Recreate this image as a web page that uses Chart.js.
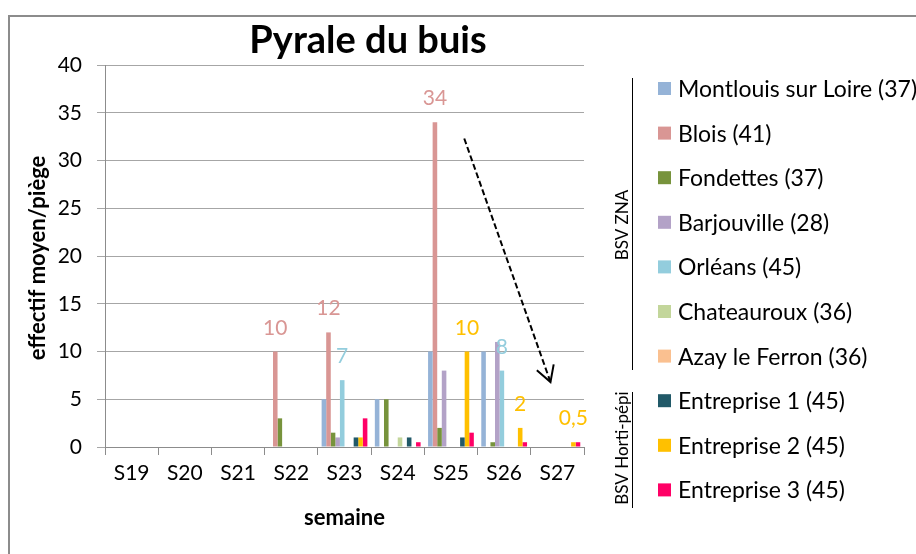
<!DOCTYPE html>
<html>
<head>
<meta charset="utf-8">
<script src="https://cdn.jsdelivr.net/npm/chart.js@4"></script>
<style>
  body { margin: 0; background: #fff; }
</style>
</head>
<body>
<canvas id="myChart" width="916" height="554"></canvas>
<script>
// Données (effectif moyen / piège)
const weeks = ['S19', 'S20', 'S21', 'S22', 'S23', 'S24', 'S25', 'S26', 'S27']
const yTicks = [0, 5, 10, 15, 20, 25, 30, 35, 40]

const montlouis   = [0, 0, 0, 0, 5, 5, 10, 10, 0]
const blois       = [0, 0, 0, 10, 12, 0, 34, 0, 0]
const fondettes   = [0, 0, 0, 3, 1.5, 5, 2, 0.5, 0]
const barjouville = [0, 0, 0, 0, 1, 0, 8, 11, 0]
const orleans     = [0, 0, 0, 0, 7, 0, 0, 8, 0]
const chateauroux = [0, 0, 0, 0, 0, 1, 0, 0, 0]
const azay        = [0, 0, 0, 0, 0, 0, 0, 0, 0]
const entreprise1 = [0, 0, 0, 0, 1, 1, 1, 0, 0]
const entreprise2 = [0, 0, 0, 0, 1, 0, 10, 2, 0.5]
const entreprise3 = [0, 0, 0, 0, 3, 0.5, 1.5, 0.5, 0.5]

// semaines où la valeur est écrite au-dessus de la barre
const bloisLabelled = ['S22', 'S23', 'S25']
const orleansLabelled = ['S23', 'S26']
const entreprise2Labelled = ['S25', 'S26', 'S27']

// groupes de la légende
const groupZNA = 'BSV ZNA'
const groupHorti = 'BSV Horti-pépi'

const FONT = 'Lato, "Open Sans", sans-serif'

let datasets = [
    {label: 'Montlouis sur Loire (37)', data: montlouis, backgroundColor: '#95B3D7'},
    {label: 'Blois (41)', data: blois, backgroundColor: '#D99694', shown: bloisLabelled},
    {label: 'Fondettes (37)', data: fondettes, backgroundColor: '#77933C'},
    {label: 'Barjouville (28)', data: barjouville, backgroundColor: '#B3A2C7'},
    {label: 'Orléans (45)', data: orleans, backgroundColor: '#93CDDD', shown: orleansLabelled},
    {label: 'Chateauroux (36)', data: chateauroux, backgroundColor: '#C3D69B'},
    {label: 'Azay le Ferron (36)', data: azay, backgroundColor: '#FAC090'},
    {label: 'Entreprise 1 (45)', data: entreprise1, backgroundColor: '#215968'},
    {label: 'Entreprise 2 (45)', data: entreprise2, backgroundColor: '#FFC000', shown: entreprise2Labelled},
    {label: 'Entreprise 3 (45)', data: entreprise3, backgroundColor: '#FF0066'},
]

// cadre, titres, étiquettes, flèche et légende
const decorPlugin = {
    id: 'decor',
    beforeDraw(chart) {
        let c = chart.ctx
        c.save()
        c.strokeStyle = '#8c8c8c'
        c.lineWidth = 2
        c.strokeRect(9, 16, 1000, 1000)
        c.restore()
    },
    afterDraw(chart) {
        let c = chart.ctx
        let area = chart.chartArea
        let x = chart.scales.x
        let y = chart.scales.y
        c.save()

        // titre
        c.fillStyle = '#000'
        c.font = 'bold 38px ' + FONT
        c.textAlign = 'center'
        c.textBaseline = 'alphabetic'
        c.fillText('Pyrale du buis', 368, 53)

        // titres des axes
        c.font = 'bold 22px ' + FONT
        c.fillText('semaine', (area.left + area.right) / 2, 525)
        c.save()
        c.translate(45, (area.top + area.bottom) / 2 + 2)
        c.rotate(-Math.PI / 2)
        c.fillText('effectif moyen/piège', 0, 0)
        c.restore()

        // valeurs au-dessus des barres
        c.font = '21px ' + FONT
        chart.data.datasets.forEach((ds, i) => {
            if (!ds.shown) return
            let meta = chart.getDatasetMeta(i)
            ds.shown.forEach(w => {
                let k = weeks.indexOf(w)
                let bar = meta.data[k]
                c.fillStyle = ds.backgroundColor
                c.fillText(String(ds.data[k]).replace('.', ','), bar.x, bar.y - 17)
            })
        })

        // flèche pointillée (tendance à la baisse)
        let x1 = x.getPixelForValue(6.25), y1 = y.getPixelForValue(32.3)
        let x2 = x.getPixelForValue(7.87), y2 = y.getPixelForValue(6.8)
        c.strokeStyle = '#000'
        c.lineWidth = 2
        c.setLineDash([6, 3])
        c.beginPath()
        c.moveTo(x1, y1)
        c.lineTo(x2, y2)
        c.stroke()
        c.setLineDash([])
        let ang = Math.atan2(y2 - y1, x2 - x1) + Math.PI
        c.beginPath()
        c.moveTo(x2 + 18 * Math.cos(ang - 0.52), y2 + 18 * Math.sin(ang - 0.52))
        c.lineTo(x2, y2)
        c.lineTo(x2 + 18 * Math.cos(ang + 0.52), y2 + 18 * Math.sin(ang + 0.52))
        c.stroke()

        // légende
        c.textAlign = 'left'
        c.textBaseline = 'middle'
        c.font = '23px ' + FONT
        chart.data.datasets.forEach((ds, i) => {
            let cy = 88.5 + i * 44.6
            c.fillStyle = ds.backgroundColor
            c.fillRect(658, cy - 6.5, 13, 13)
            c.fillStyle = '#000'
            c.fillText(ds.label, 678, cy + 1)
        })

        // accolades des groupes
        c.strokeStyle = '#000'
        c.lineWidth = 1
        c.beginPath()
        c.moveTo(632.5, 78)
        c.lineTo(632.5, 370)
        c.moveTo(632.5, 392)
        c.lineTo(632.5, 508)
        c.stroke()
        c.font = '17px ' + FONT
        c.textAlign = 'center'
        c.fillStyle = '#000'
        c.save()
        c.translate(623, 225)
        c.rotate(-Math.PI / 2)
        c.fillText(groupZNA, 0, 0)
        c.restore()
        c.save()
        c.translate(623, 448)
        c.rotate(-Math.PI / 2)
        c.fillText(groupHorti, 0, 0)
        c.restore()

        c.restore()
    }
}

let ctx = document.getElementById('myChart').getContext('2d')
let chart = new Chart(ctx, {
    type: 'bar',
    data: {
        labels: weeks,
        datasets: datasets
    },
    options: {
        responsive: false,
        animation: false,
        events: [],
        layout: {
            padding: {left: 0, right: 332, top: 65, bottom: 67}
        },
        datasets: {
            bar: {categoryPercentage: 0.86, barPercentage: 1}
        },
        plugins: {
            legend: {display: false},
            title: {display: false},
            tooltip: {enabled: false}
        },
        scales: {
            x: {
                afterFit: s => { s.height = 40 },
                grid: {
                    offset: true,
                    drawOnChartArea: false,
                    tickLength: 8,
                    color: '#8c8c8c'
                },
                border: {color: '#8c8c8c'},
                ticks: {
                    color: '#000',
                    font: {family: FONT, size: 21},
                    padding: 6
                }
            },
            y: {
                min: 0,
                max: 40,
                afterFit: s => { s.width = 105 },
                afterBuildTicks: s => { s.ticks = yTicks.map(v => ({value: v})) },
                grid: {
                    color: '#a6a6a6',
                    tickLength: 8
                },
                border: {color: '#8c8c8c'},
                ticks: {
                    color: '#000',
                    font: {family: FONT, size: 21},
                    padding: 15
                }
            }
        }
    },
    plugins: [decorPlugin]
})
</script>
</body>
</html>
